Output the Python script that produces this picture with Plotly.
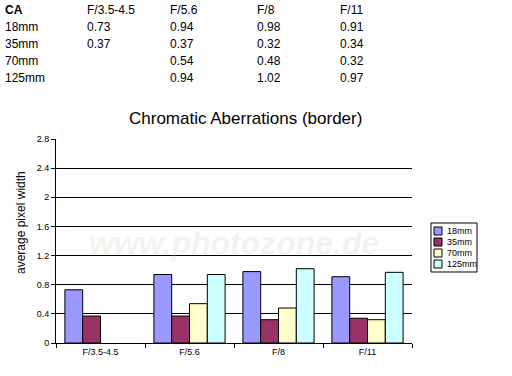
import plotly.graph_objects as go

categories = ["F/3.5-4.5", "F/5.6", "F/8", "F/11"]
series_names = ["18mm", "35mm", "70mm", "125mm"]
v18 = [0.73, 0.94, 0.98, 0.91]
v35 = [0.37, 0.37, 0.32, 0.34]
v70 = [None, 0.54, 0.48, 0.32]
v125 = [None, 0.94, 1.02, 0.97]
colors = ["#9999ff", "#993366", "#ffffcc", "#ccffff"]
y_ticks = [0, 0.4, 0.8, 1.2, 1.6, 2, 2.4, 2.8]

series = [v18, v35, v70, v125]

L, R, T, B = 56, 412, 139, 343
W, H = 512, 376
FONT = "Liberation Sans, Arial"

def px(x):
    return (x - L) / (R - L)

def py(y):
    return (B - y) / (B - T)

fig = go.Figure()
for name, vals, c in zip(series_names, series, colors):
    fig.add_trace(go.Bar(x=categories, y=vals, name=name, showlegend=False,
                         marker=dict(color=c, line=dict(color="black", width=1))))

annotations = []
shapes = []
font_tbl = dict(family=FONT, size=12, color="black")
col_x = [3, 85, 168, 255, 338]
row_y = [10, 27, 44, 61, 78]
annotations.append(dict(text="<b>CA</b>", x=px(col_x[0]), y=py(row_y[0]), xref="paper", yref="paper",
                        xanchor="left", yanchor="middle", showarrow=False, font=font_tbl))
for j, c in enumerate(categories):
    annotations.append(dict(text=c, x=px(col_x[j + 1]), y=py(row_y[0]), xref="paper", yref="paper",
                            xanchor="left", yanchor="middle", showarrow=False, font=font_tbl))
for i, (name, vals) in enumerate(zip(series_names, series)):
    annotations.append(dict(text=name, x=px(col_x[0]), y=py(row_y[i + 1]), xref="paper", yref="paper",
                            xanchor="left", yanchor="middle", showarrow=False, font=font_tbl))
    for j, v in enumerate(vals):
        if v is None:
            continue
        annotations.append(dict(text=f"{v:.2f}", x=px(col_x[j + 1]), y=py(row_y[i + 1]),
                                xref="paper", yref="paper", xanchor="left", yanchor="middle",
                                showarrow=False, font=font_tbl))

# title
annotations.append(dict(text="Chromatic Aberrations (border)", x=px(245), y=py(119), xref="paper", yref="paper",
                        xanchor="center", yanchor="middle", showarrow=False,
                        font=dict(family=FONT, size=17, color="black")))
# y axis title
annotations.append(dict(text="average pixel width", x=px(21), y=py(223), xref="paper", yref="paper",
                        xanchor="center", yanchor="middle", showarrow=False, textangle=-90,
                        font=dict(family=FONT, size=12, color="black")))
# watermark (semi-transparent so the gridline shows through)
annotations.append(dict(text="<b><i>www.photozone.de</i></b>", x=px(234), y=py(243), xref="paper", yref="paper",
                        xanchor="center", yanchor="middle", showarrow=False,
                        font=dict(family=FONT, size=32, color="rgba(200,196,180,0.16)",
                                  shadow="0px 0px 2px rgba(150,148,135,0.25)")))

# legend box (manual, compact like the original)
lx0, ly0, lx1, ly1 = 431, 223, 477, 272
shapes.append(dict(type="rect", xref="paper", yref="paper", x0=px(lx0), x1=px(lx1), y0=py(ly1), y1=py(ly0),
                   line=dict(color="black", width=1), fillcolor="white"))
leg_rows = [231, 242, 253, 264]
for name, c, ry in zip(series_names, colors, leg_rows):
    shapes.append(dict(type="rect", xref="paper", yref="paper", x0=px(434), x1=px(442),
                       y0=py(ry + 4), y1=py(ry - 4), line=dict(color="black", width=1), fillcolor=c))
    annotations.append(dict(text=name, x=px(445), y=py(ry), xref="paper", yref="paper",
                            xanchor="left", yanchor="middle", showarrow=False,
                            font=dict(family=FONT, size=9, color="black")))

fig.update_layout(
    width=W, height=H,
    margin=dict(l=L, r=W - R, t=T, b=H - B),
    paper_bgcolor="white", plot_bgcolor="white",
    barmode="group", bargap=0.2, bargroupgap=0,
    showlegend=False,
    annotations=annotations,
    shapes=shapes,
    font=dict(family=FONT, size=9, color="black"),
)
fig.update_xaxes(showline=True, linecolor="black", linewidth=1, ticks="outside", tickson="boundaries",
                 ticklen=4, tickcolor="black", showgrid=False,
                 tickfont=dict(size=9, family=FONT))
fig.update_yaxes(range=[0, 2.8], tickvals=y_ticks, ticktext=[f"{t:g}" for t in y_ticks],
                 showline=True, linecolor="black", linewidth=1, ticks="outside", ticklen=4,
                 tickcolor="black", showgrid=True, gridcolor="black", gridwidth=1, zeroline=False,
                 tickfont=dict(size=9, family=FONT))

fig.write_html("out.html", config={"displayModeBar": False},
               post_script="document.body.style.margin='0';")
